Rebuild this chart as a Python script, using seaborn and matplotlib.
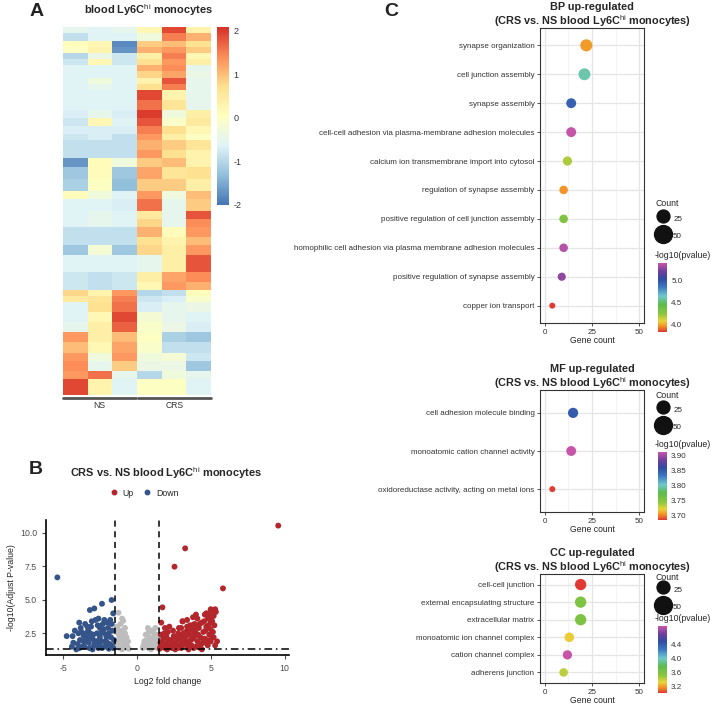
import numpy as np
import pandas as pd
import matplotlib
matplotlib.use('Agg')
import matplotlib.pyplot as plt
import seaborn as sns
from matplotlib.colors import LinearSegmentedColormap, Normalize
from matplotlib.lines import Line2D
import matplotlib.colorbar as mcolorbar

sns.set_style('white')
plt.rcParams['font.family'] = ['Liberation Sans', 'DejaVu Sans']
plt.rcParams['mathtext.fontset'] = 'custom'
plt.rcParams['mathtext.rm'] = 'Liberation Sans'
plt.rcParams['axes.unicode_minus'] = False

# ---- A: heatmap, row blocks (number of genes, z-score in NS1 NS2 NS3 CRS1 CRS2 CRS3)
heat_rows = [3, 4, 3, 3, 3, 3, 3, 3, 3, 3, 5, 5, 4, 4, 4, 3, 5, 4, 4, 6, 6,
             4, 6, 4, 4, 5, 4, 5, 8, 5, 4, 3, 3, 5, 5, 5, 5, 5, 4, 5, 4, 8]
heat_vals = [
    [-0.5, -0.6, -0.5, 0.2, 1.9, 0.3],
    [-0.9, -0.6, -0.6, -0.3, 1.5, 1.1],
    [0.1, 0.2, -1.8, 0.9, 1.0, 0.7],
    [0.0, 0.3, -1.7, 1.1, 1.3, 0.9],
    [-1.0, -0.4, -0.8, 0.4, 1.5, 0.2],
    [-0.8, 0.2, -0.8, 0.7, 1.3, 0.4],
    [-0.6, -0.6, -0.6, 1.1, 1.4, -0.5],
    [-0.6, -0.6, -0.6, 0.8, 1.2, -0.4],
    [-0.6, -0.3, -0.6, 0.3, 1.8, -0.5],
    [-0.6, -0.5, -0.6, 0.7, 1.5, -0.5],
    [-0.6, -0.6, -0.6, 1.9, 0.3, -0.5],
    [-0.6, -0.6, -0.6, 1.6, 0.6, -0.5],
    [-0.7, -0.5, -0.7, 2.0, -0.3, 0.4],
    [-0.8, 0.2, -0.6, 1.8, -0.1, 0.5],
    [-0.7, -0.7, -0.7, 1.5, 0.7, 0.2],
    [-0.8, -0.7, -0.9, 1.3, 0.4, 0.0],
    [-0.9, -0.9, -0.9, 1.1, 0.9, 0.6],
    [-0.9, -0.9, -0.9, 1.3, 0.7, 0.3],
    [-1.7, 0.1, -0.3, 0.9, 1.0, 0.3],
    [-1.2, 0.1, -1.2, 1.2, 0.6, 0.7],
    [-1.1, 0.0, -1.3, 0.9, 0.9, 0.4],
    [0.1, -0.3, -0.6, 1.3, -0.3, 1.0],
    [-0.6, -0.6, -0.7, 1.6, -0.5, 0.9],
    [-0.6, -0.5, -0.6, 0.5, -0.5, 1.8],
    [-0.6, -0.5, -0.6, 0.8, -0.5, 1.4],
    [-0.9, -0.9, -0.9, 1.1, 0.1, 1.3],
    [-0.9, -0.9, -0.9, 0.7, 0.3, 1.0],
    [-1.2, -0.2, -1.2, 0.8, 0.4, 1.3],
    [-0.6, -0.6, -0.6, -0.5, 0.4, 1.8],
    [-0.8, -0.9, -0.8, 0.4, 1.2, 1.4],
    [-0.8, -0.9, -0.8, 0.2, 1.3, 1.1],
    [0.8, 0.3, 1.3, -1.0, -0.9, 0.1],
    [0.5, 0.6, 1.5, -0.8, -0.7, -0.1],
    [-0.6, 0.7, 1.6, -0.7, -0.5, -0.4],
    [-0.6, 0.2, 1.9, -0.2, -0.5, -0.6],
    [-0.5, 0.4, 1.7, -0.1, -0.4, -0.7],
    [1.3, 0.4, 1.0, 0.0, -1.1, -1.2],
    [1.0, 0.2, 1.2, -0.1, -0.9, -0.9],
    [1.3, -0.3, 1.3, -0.3, -0.2, -0.8],
    [1.4, -0.5, 0.9, -0.4, -0.4, -1.2],
    [1.3, 1.6, -0.5, -1.0, -0.3, -0.5],
    [1.9, 0.3, -0.6, 0.0, 0.0, -0.6],
]
heat_groups = ['NS', 'CRS']

# ---- B: volcano points (log2 fold change, -log10 adjusted p)
up_lfc = [
    1.55, 1.6, 1.62, 1.65, 1.7, 1.8, 1.9, 2.0, 2.1, 2.2, 2.3, 2.4, 2.5, 2.6, 2.7, 2.8, 2.9, 3.0,
    3.0, 3.1, 3.2, 3.3, 3.4, 3.4, 3.5, 3.6, 3.7, 3.7, 3.8, 3.9, 4.0, 4.0, 4.1, 4.1, 4.2, 4.3,
    4.3, 4.4, 4.5, 4.5, 4.6, 4.6, 4.7, 4.8, 4.8, 4.9, 4.9, 5.0, 5.0, 5.1, 5.1, 5.2, 5.3, 5.2,
    3.1, 2.2, 3.5, 2.6, 1.9, 4.4, 5.43, 1.73, 3.09, 2.55, 3.27, 5.83, 9.57, 3.8, 4.2, 2.9,
    2.4, 2.0, 3.3, 3.9, 4.7, 5.0, 2.7, 3.6,
    1.6, 1.75, 1.85, 2.05, 2.15, 2.35, 2.45, 2.65, 2.75, 2.85, 2.95, 3.05, 3.15, 3.25, 3.35,
    3.45, 3.55, 3.65, 3.75, 3.85, 3.95, 4.05, 4.15, 4.25, 4.35, 4.45, 4.55, 4.65, 4.75, 4.85,
    4.95, 5.05, 5.15, 5.25, 5.3, 5.35, 4.0, 3.4, 4.7, 5.0,
]
up_logp = [
    1.35, 1.8, 2.4, 3.3, 1.5, 2.1, 1.4, 1.7, 2.6, 1.5, 2.0, 1.4, 2.3, 1.8, 1.5, 2.5, 2.0, 1.4,
    2.9, 1.7, 2.2, 2.6, 1.5, 3.0, 1.9, 2.4, 1.6, 2.8, 2.1, 3.2, 1.5, 2.5, 1.9, 3.6, 2.9, 2.2,
    1.4, 3.3, 2.6, 1.8, 3.9, 2.1, 3.0, 1.6, 3.6, 2.4, 4.0, 2.8, 1.9, 3.4, 4.2, 2.2, 4.3, 3.8,
    3.4, 3.0, 1.3, 1.3, 2.9, 1.3, 1.9, 4.44, 3.39, 7.48, 8.85, 5.86, 10.55, 3.7, 1.6, 1.6,
    1.7, 2.3, 1.9, 2.6, 2.0, 3.3, 2.1, 3.1,
    1.5, 1.9, 2.5, 1.3, 2.0, 1.6, 2.7, 2.1, 1.4, 2.9, 2.3, 1.6, 2.5, 1.9, 2.3,
    2.7, 1.6, 2.0, 3.1, 1.4, 2.3, 2.9, 2.4, 3.2, 1.7, 2.1, 3.4, 2.7, 1.9, 3.1,
    2.0, 3.7, 2.6, 3.1, 1.6, 4.1, 3.9, 3.5, 4.0, 4.3,
]
down_lfc = [
    -4.0, -3.9, -3.8, -3.7, -3.6, -3.5, -3.4, -3.3, -3.2, -3.1, -3.0, -2.9, -2.8, -2.7, -2.6,
    -2.5, -2.4, -2.3, -2.2, -2.1, -2.0, -1.95, -1.9, -1.8, -1.75, -1.7, -1.65, -1.6, -3.9, -4.4,
    -4.2, -3.3, -2.5, -2.85, -2.2, -3.6, -4.75, -4.35, -3.18, -2.88, -2.36, -1.71, -1.6, -5.38,
    -4.1, -3.0, -2.7, -2.3, -3.45, -1.85,
    -3.85, -3.75, -3.55, -3.45, -3.35, -3.25, -3.15, -3.05, -2.95, -2.75, -2.65, -2.55, -2.45,
    -2.35, -2.25, -2.15, -2.05, -1.9, -1.8, -1.7, -1.55, -4.3, -3.95, -2.6, -2.0,
]
down_logp = [
    1.7, 3.3, 2.9, 1.5, 2.3, 3.2, 1.9, 2.7, 1.4, 3.0, 2.1, 1.6, 3.5, 2.5, 1.4,
    2.9, 1.9, 3.2, 1.5, 2.4, 1.8, 2.9, 1.35, 3.5, 2.2, 1.6, 2.7, 1.4, 1.4, 1.5,
    2.7, 2.2, 2.2, 1.9, 3.5, 1.9, 2.29, 2.29, 4.24, 4.36, 4.71, 4.99, 3.99, 6.68,
    1.3, 1.3, 1.9, 2.6, 2.5, 1.7,
    2.0, 2.6, 1.5, 2.3, 3.0, 1.8, 2.5, 3.4, 2.4, 1.9, 3.1, 1.7, 2.5,
    1.4, 2.8, 1.9, 2.2, 2.5, 1.6, 3.2, 2.0, 1.8, 2.5, 3.6, 3.3,
]
ns_lfc = [
    -1.45, -1.4, -1.35, -1.3, -1.24, -1.2, -1.15, -1.1, -1.05, -1.0, -0.95, -0.92, -0.9, -0.85,
    -0.8, -0.75, -0.7, -0.65, -0.6, -0.55, -1.25, -1.0, -1.4, -1.3, -1.2, -1.1, -1.0, -0.9,
    -0.8, -0.7,
    0.4, 0.5, 0.55, 0.6, 0.7, 0.75, 0.8, 0.85, 0.9, 1.0, 1.05, 1.1, 1.2, 1.25, 1.3, 1.4, 1.35,
    0.95, 0.45, 0.65, 0.8, 0.95, 1.15, 1.3, 1.45,
]
ns_logp = [
    1.5, 2.6, 3.0, 1.9, 4.04, 2.3, 1.4, 3.2, 2.0, 2.7, 1.6, 3.44, 2.3, 1.4,
    2.9, 1.8, 2.2, 1.5, 1.9, 1.35, 1.6, 1.3, 1.8, 2.8, 1.5, 2.4, 3.6, 1.9,
    2.5, 1.6,
    1.4, 1.9, 1.5, 2.4, 1.7, 2.9, 1.4, 2.2, 1.8, 2.7, 1.5, 2.1, 1.6, 2.9, 1.9, 1.4, 2.4,
    1.3, 1.6, 2.0, 2.6, 1.6, 2.5, 1.5, 2.1,
]
lfc_cut = 1.5
p_cut = 1.3

# ---- C: GO enrichment
bp_terms = ['synapse organization', 'cell junction assembly', 'synapse assembly',
            'cell-cell adhesion via plasma-membrane adhesion molecules',
            'calcium ion transmembrane import into cytosol', 'regulation of synapse assembly',
            'positive regulation of cell junction assembly',
            'homophilic cell adhesion via plasma membrane adhesion molecules',
            'positive regulation of synapse assembly', 'copper ion transport']
bp_count = [22, 21, 14, 14, 12, 10, 10, 10, 9, 4]
bp_logp = [3.98, 4.60, 4.95, 5.40, 4.18, 3.97, 4.30, 5.36, 5.28, 3.83]

mf_terms = ['cell adhesion molecule binding', 'monoatomic cation channel activity',
            'oxidoreductase activity, acting on metal ions']
mf_count = [15, 14, 4]
mf_logp = [3.850, 3.912, 3.686]

cc_terms = ['cell-cell junction', 'external encapsulating structure', 'extracellular matrix',
            'monoatomic ion channel complex', 'cation channel complex', 'adherens junction']
cc_count = [19, 19, 19, 13, 12, 10]
cc_logp = [3.03, 3.60, 3.60, 3.31, 4.91, 3.42]

W, H = 714, 704
fig = plt.figure(figsize=(W / 100, H / 100), dpi=100)


def fx(px):
    return px / W


def fy(py):
    return 1 - py / H


def rect(x0, y0, x1, y1):
    return [x0 / W, 1 - y1 / H, (x1 - x0) / W, (y1 - y0) / H]


hi = r'Ly6C$^{\rm hi}$'

# panel letters
for letter, x, y in [('A', 37, 12), ('B', 36, 470), ('C', 391, 12)]:
    fig.text(fx(x), fy(y), letter, fontsize=14, fontweight='bold', ha='center', va='center', color='#222222')

# ---------------- A ----------------
heat_cmap = LinearSegmentedColormap.from_list(
    'pheat', ['#4575B4', '#91BFDB', '#E0F3F8', '#FFFFBF', '#FEE090', '#FC8D59', '#D73027'])
mat = np.repeat(np.array(heat_vals), heat_rows, axis=0)
axA = fig.add_axes(rect(63, 27, 211, 395))
caxA = fig.add_axes(rect(217, 27, 229, 205))
sns.heatmap(mat, cmap=heat_cmap, vmin=-2, vmax=2.08, ax=axA, cbar_ax=caxA,
            xticklabels=False, yticklabels=False)
cbA = axA.collections[0].colorbar
cbA.set_ticks([-2, -1, 0, 1, 2])
cbA.set_ticklabels(['-2', '-1', '0', '1', '2'])
cbA.outline.set_visible(False)
caxA.tick_params(length=0, labelsize=6.5, pad=3, colors='#333333')
fig.text(fx(148), fy(10), 'blood ' + hi + ' monocytes', fontsize=7.9, fontweight='bold',
         ha='center', va='center')
for i, g in enumerate(heat_groups):
    x0 = 63 + i * 75
    x1 = x0 + 73
    fig.add_artist(Line2D([fx(x0), fx(x1)], [fy(398), fy(398)], transform=fig.transFigure,
                          color='#555555', lw=2))
    fig.text(fx((x0 + x1) / 2), fy(405), g, fontsize=6.2, ha='center', va='center', color='#333333')

# ---------------- B ----------------
vdf = pd.concat([
    pd.DataFrame({'lfc': ns_lfc, 'logp': ns_logp, 'group': 'NS'}),
    pd.DataFrame({'lfc': down_lfc, 'logp': down_logp, 'group': 'Down'}),
    pd.DataFrame({'lfc': up_lfc, 'logp': up_logp, 'group': 'Up'}),
])
vcol = {'Up': '#B2262C', 'Down': '#34548A', 'NS': '#BDBDBD'}
axB = fig.add_axes(rect(46, 520, 289, 655))
sns.scatterplot(data=vdf, x='lfc', y='logp', hue='group', palette=vcol, s=18,
                edgecolor='none', legend=False, ax=axB)
for v in (-lfc_cut, lfc_cut):
    axB.axvline(v, color='black', lw=1.1, dashes=(4, 3))
axB.axhline(p_cut, color='black', lw=1.1, dashes=(5, 2.5, 1, 2.5))
axB.set_xlim(-6.15, 10.3)
axB.set_ylim(0.88, 10.97)
axB.set_xticks([-5, 0, 5, 10])
axB.set_yticks([2.5, 5.0, 7.5, 10.0])
axB.set_yticklabels(['2.5', '5.0', '7.5', '10.0'])
axB.tick_params(labelsize=6.3, colors='#4D4D4D', length=3, width=0.8, left=True, bottom=True)
for s in ['top', 'right']:
    axB.spines[s].set_visible(False)
for s in ['left', 'bottom']:
    axB.spines[s].set_color('black')
    axB.spines[s].set_linewidth(1.2)
axB.set_xlabel('Log2 fold change', fontsize=6.3, labelpad=3)
axB.set_ylabel('-log10(Adjust P-value)', fontsize=6.3, labelpad=3)
fig.text(fx(166), fy(473), 'CRS vs. NS ' + 'blood ' + hi + ' monocytes', fontsize=7.9,
         fontweight='bold', ha='center', va='center')
handles = [Line2D([], [], marker='o', ls='', color=vcol['Up'], markersize=3.2),
           Line2D([], [], marker='o', ls='', color=vcol['Down'], markersize=3.2)]
axB.legend(handles, ['Up', 'Down'], ncol=2, loc='center', bbox_to_anchor=(fx(144), fy(493)),
           bbox_transform=fig.transFigure, frameon=False, fontsize=6.3, handletextpad=0.5,
           columnspacing=1.0, handlelength=1.0, borderpad=0)

# ---------------- C ----------------
go_cmap = LinearSegmentedColormap.from_list('go', [
    (0.0, '#E03A33'), (0.08, '#F39027'), (0.16, '#E8D53A'), (0.26, '#8CC63F'),
    (0.40, '#5DBB4C'), (0.52, '#6FC9CC'), (0.65, '#3D78C2'), (0.77, '#324AA0'),
    (0.88, '#6D3F9E'), (1.0, '#C655A8')])


def dotplot(box, terms, counts, logp, name, cbox, cticks, cfmt, count_y, leg_mid):
    ax = fig.add_axes(rect(*box))
    df = pd.DataFrame({'term': terms, 'count': counts, 'logp': logp})
    lo, hi_ = min(logp), max(logp)
    sns.scatterplot(data=df, x='count', y='term', hue='logp', size='count', palette=go_cmap,
                    hue_norm=(lo, hi_), sizes=(6, 166), size_norm=(0, 50), edgecolor='none',
                    legend=False, ax=ax, zorder=3)
    ax.set_xlim(-2.5, 52.5)
    ax.set_ylim(len(terms) - 0.4, -0.6)
    ax.set_xticks([0, 25, 50])
    ax.set_xticks([12.5, 37.5], minor=True)
    ax.grid(which='major', color='#E5E5E5', lw=0.9)
    ax.grid(which='minor', axis='x', color='#F0F0F0', lw=0.5)
    ax.set_axisbelow(True)
    for s in ax.spines.values():
        s.set_color('#333333')
        s.set_linewidth(0.8)
    ax.tick_params(labelsize=5.8, colors='#333333', length=2.5, width=0.6, left=True, bottom=True, pad=1.5)
    ax.tick_params(which='minor', length=0)
    ax.set_xlabel('Gene count', fontsize=6.2, labelpad=0.5, color='#222222')
    ax.set_ylabel('')
    ax.set_title(name + ' up-regulated\n(CRS vs. NS blood ' + hi + ' monocytes)',
                 fontsize=7.8, fontweight='bold', pad=2.5, linespacing=1.05)
    # size legend
    fig.text(fx(655), fy(count_y), 'Count', fontsize=6.3, ha='left', va='center')
    hs = [Line2D([], [], marker='o', ls='', color='#111111',
                 markersize=np.sqrt(6 + 160 * c / 50)) for c in (25, 50)]
    ax.legend(hs, ['25', '50'], loc='center left',
              bbox_to_anchor=(fx(657), fy(leg_mid)), bbox_transform=fig.transFigure,
              frameon=False, fontsize=5.8, handletextpad=0.6,
              labelspacing=0.55, handleheight=2.2, borderpad=0, borderaxespad=0,
              handlelength=1.4)
    # colour bar
    cax = fig.add_axes(rect(*cbox))
    cb = mcolorbar.ColorbarBase(cax, cmap=go_cmap, norm=Normalize(lo, hi_))
    cb.outline.set_visible(False)
    cb.set_ticks(cticks)
    cb.set_ticklabels([cfmt % t for t in cticks])
    cax.tick_params(direction='in', color='white', labelcolor='#333333', length=2, width=0.8,
                    labelsize=5.8, pad=3)
    fig.text(fx(655), fy(cbox[1] - 3), '-log10(pvalue)', fontsize=6.3, va='bottom', ha='left')
    return ax


dotplot((540, 28, 644, 323), bp_terms, bp_count, bp_logp, 'BP', (658, 263, 667, 332),
        [4.0, 4.5, 5.0], '%.1f', 203, 227)
dotplot((540, 390, 644, 512), mf_terms, mf_count, mf_logp, 'MF', (658, 452, 667, 520),
        [3.70, 3.75, 3.80, 3.85, 3.90], '%.2f', 395, 418)
dotplot((540, 574, 644, 683), cc_terms, cc_count, cc_logp, 'CC', (658, 626, 667, 693),
        [3.2, 3.6, 4.0, 4.4], '%.1f', 578, 598)

fig.savefig('out.png', dpi=100)
